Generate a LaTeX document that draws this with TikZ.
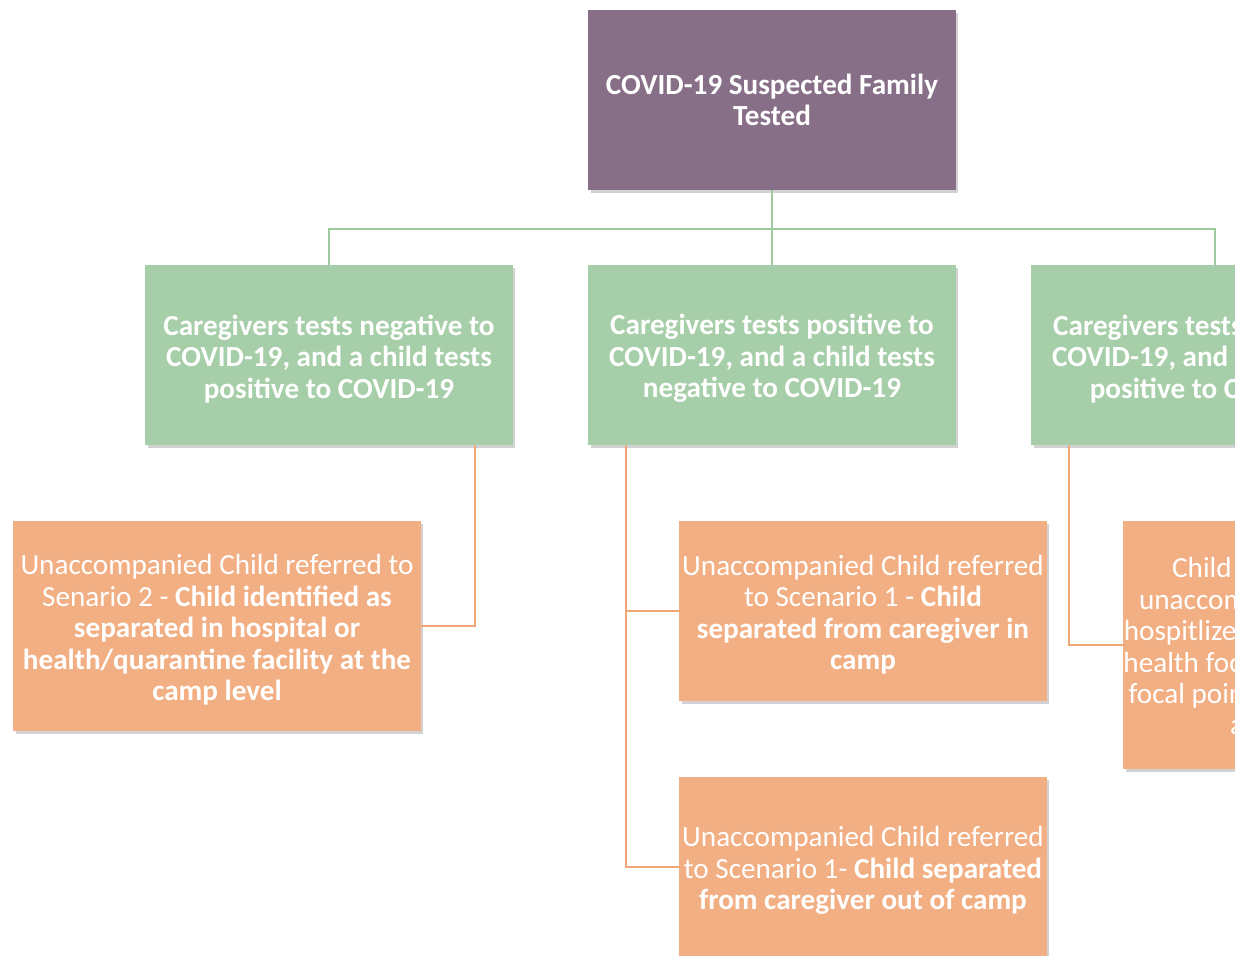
\documentclass[tikz,border=0pt]{standalone}
\usepackage{fontspec}
\setmainfont{Carlito}
\usetikzlibrary{calc,positioning,shadows}
\definecolor{plum}{RGB}{135,111,135}
\definecolor{sage}{RGB}{166,206,168}
\definecolor{peach}{RGB}{242,175,131}
\definecolor{sageline}{RGB}{157,203,158}
\definecolor{peachline}{RGB}{241,166,118}
% a taller first line pushes the text down a little
\newcommand{\lowtext}{\rule{0pt}{15.8pt}}

\begin{document}
\begin{tikzpicture}[x=0.02cm,y=-0.02cm,
  box/.style={text=white, align=center, inner sep=0pt, font=\fontsize{16.6}{17.9}\selectfont,
    drop shadow={opacity=0.35, shadow xshift=0.05cm, shadow yshift=-0.06cm}},
  family/.style={box, fill=plum, font=\bfseries\fontsize{16.6}{17.9}\selectfont, minimum width=7.36cm, minimum height=3.6cm},
  result/.style={box, fill=sage, font=\bfseries\fontsize{16.6}{17.9}\selectfont, minimum width=7.36cm, minimum height=3.6cm},
  referral/.style={box, fill=peach, minimum width=7.36cm, minimum height=3.6cm},
  tree/.style={draw=sageline, line width=1.2pt},
  link/.style={draw=peachline, line width=1.2pt}
  ]
  \path[use as bounding box] (0,0) rectangle (1235,956);
  \clip (0,0) rectangle (1235,956);
  \fill[white] (0,0) rectangle (1235,956);

  \node [family](test) at (772,100) {COVID-19 Suspected Family\\Tested};
  \node [result](neg) at (329,355) {\lowtext Caregivers tests negative to\\COVID-19, and a child tests\\positive to COVID-19};
  \node [result](pos) at (772,355) {\lowtext Caregivers tests positive to\\COVID-19, and a child tests\\negative to COVID-19};
  \node [result](both) at (1215,355) {\lowtext Caregivers tests positive to\\COVID-19, and a child tests\\positive to COVID-19};

  \node [referral, minimum width=8.16cm, minimum height=4.22cm](sep2) at (217,626)
    {\lowtext Unaccompanied Child referred to\\Senario 2 - \textbf{Child identified as}\\\textbf{separated in hospital or}\\\textbf{health/quarantine facility at the}\\\textbf{camp level}};
  \node [referral](sepin) at (863,611)
    {\lowtext Unaccompanied Child referred\\to Scenario 1 - \textbf{Child}\\\textbf{separated from caregiver in}\\\textbf{camp}};
  \node [referral](sepout) at (863,867)
    {\lowtext Unaccompanied Child referred\\to Scenario 1- \textbf{Child separated}\\\textbf{from caregiver out of camp}};
  \node [referral, minimum height=4.98cm](hosp) at (1307,645)
    {\lowtext Child identified as bein\\unaccompanied as caregiver\\hospitlized - referred to camp's\\health focal point and camp CP\\focal point for alternative care\\arrangement};

  \coordinate (bus) at (772,229);
  \draw[tree] (test.south) -- (bus);
  \draw[tree] (neg.north) |- (bus) -| (both.north);
  \draw[tree] (bus) -- (pos.north);

  \draw[link] ($(neg.south east)+(-38,0)$) |- (sep2.east);
  \draw[link] ($(pos.south west)+(38,0)$) |- (sepin.west);
  \draw[link] ($(pos.south west)+(38,0)$) |- (sepout.west);
  \draw[link] ($(both.south west)+(38,0)$) |- (hosp.west);
\end{tikzpicture}
\end{document}
